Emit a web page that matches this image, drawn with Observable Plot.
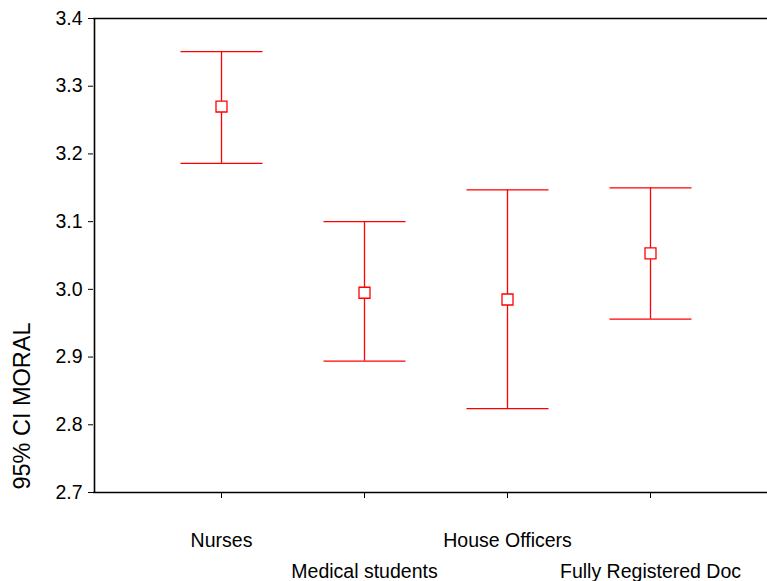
<!DOCTYPE html>
<html>
<head>
<meta charset="utf-8">
<script src="https://cdn.jsdelivr.net/npm/d3@7"></script>
<script src="https://cdn.jsdelivr.net/npm/@observablehq/plot@0.6"></script>
<style>
  html, body { margin: 0; padding: 0; background: #fff; }
  #chart { position: relative; width: 767px; height: 581px; overflow: hidden; }
  #chart svg text { font-family: "Liberation Sans", Arial, sans-serif; font-size: 19.5px; }
  #ylabel { position: absolute; left: 22px; top: 406px; transform: translate(-50%, -50%) rotate(-90deg);
    font-family: "Liberation Sans", Arial, sans-serif; font-size: 23.5px; color: #000; white-space: nowrap; }
</style>
</head>
<body>
<div id="chart"><div id="ylabel">95% CI MORAL</div></div>
<script>
const categories = ["Nurses", "Medical students", "House Officers", "Fully Registered Doc"];
const means = [3.270, 2.995, 2.985, 3.053];
const lower = [3.186, 2.894, 2.824, 2.956];
const upper = [3.351, 3.100, 3.147, 3.150];
const yTicks = [2.7, 2.8, 2.9, 3.0, 3.1, 3.2, 3.3, 3.4];

const data = categories.map((c, i) => ({cat: c, mean: means[i], lo: lower[i], hi: upper[i], row: i % 2}));

const red = "#ff0000";
const font = "Liberation Sans, Arial, sans-serif";
const capSymbol = {draw(ctx) { ctx.moveTo(-41, 0); ctx.lineTo(41, 0); }};

const plot = Plot.plot({
  width: 767,
  height: 581,
  marginLeft: 93,
  marginRight: 0,
  marginTop: 18,
  marginBottom: 89,
  style: {fontFamily: font, fontSize: "19.5px", color: "#000", background: "#fff", overflow: "visible"},
  x: {type: "point", domain: categories, range: [220, 651], padding: 0},
  y: {domain: [2.7, 3.4]},
  marks: [
    Plot.axisY({ticks: yTicks, tickFormat: d3.format(".1f"), tickSize: 5, tickPadding: 6, label: null, fontSize: 19.5}),
    Plot.axisX({tickSize: 6, tickFormat: () => "", label: null}),
    Plot.ruleX([categories[0]], {y1: 2.7, y2: 3.4, dx: -127, stroke: "#000", strokeWidth: 1.6}),
    Plot.ruleY([2.7], {stroke: "#000", strokeWidth: 1.6}),
    Plot.ruleY([3.4], {stroke: "#000", strokeWidth: 1.6}),
    Plot.ruleX(data, {x: "cat", y1: "lo", y2: "hi", stroke: red, strokeWidth: 1.3}),
    Plot.dot(data, {x: "cat", y: "hi", symbol: capSymbol, stroke: red, fill: "none", strokeWidth: 1.3}),
    Plot.dot(data, {x: "cat", y: "lo", symbol: capSymbol, stroke: red, fill: "none", strokeWidth: 1.3}),
    Plot.dot(data, {x: "cat", y: "mean", symbol: "square", r: 6.2, stroke: red, fill: "#fff", strokeWidth: 1.3}),
    Plot.text(data.filter(d => d.row === 0), {x: "cat", y: () => 2.7, text: "cat", dy: 48, fontSize: 19.5, fill: "#000"}),
    Plot.text(data.filter(d => d.row === 1), {x: "cat", y: () => 2.7, text: "cat", dy: 79, fontSize: 19.5, fill: "#000"})
  ]
});
document.getElementById("chart").prepend(plot);
</script>
</body>
</html>
